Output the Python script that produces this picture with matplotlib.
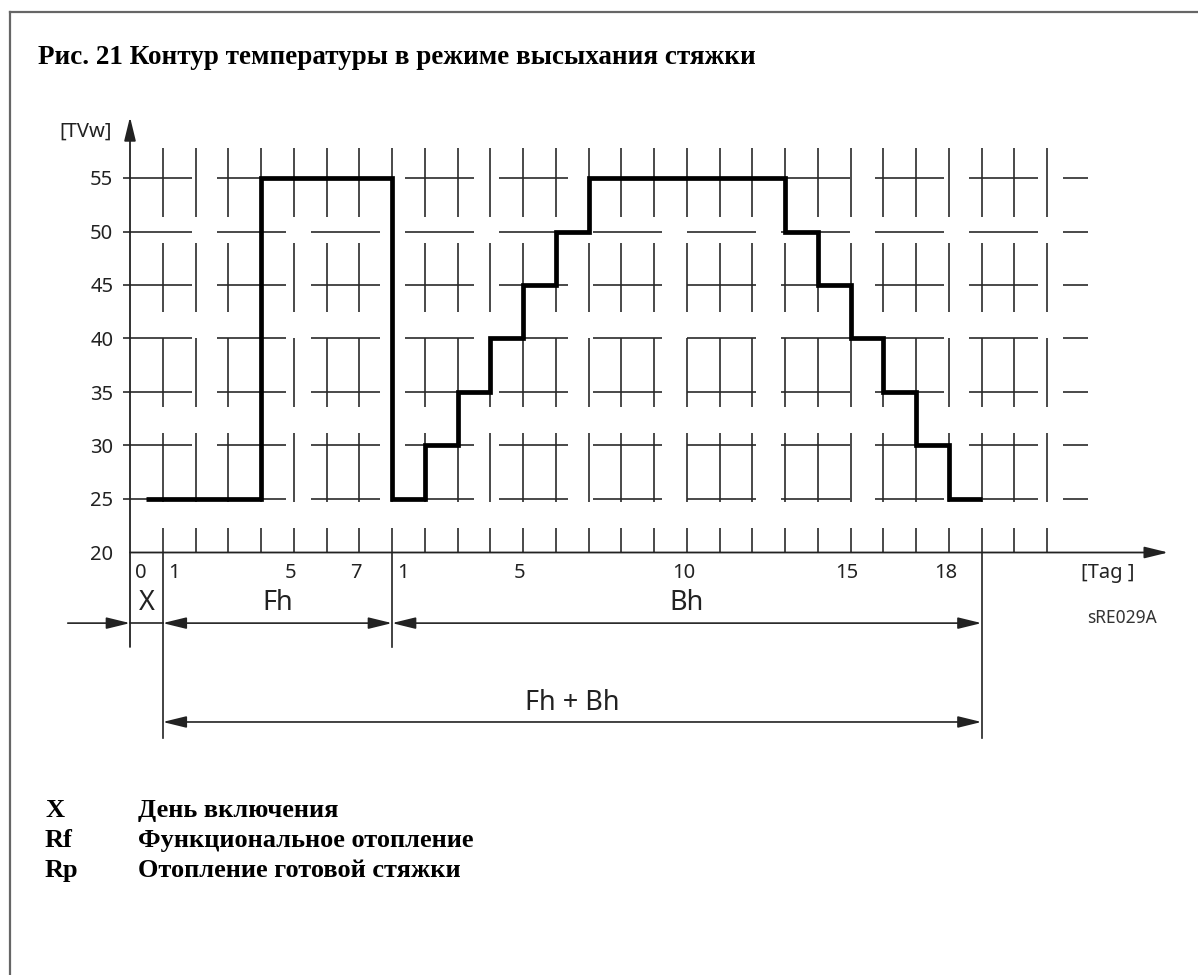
import numpy as np
import matplotlib
matplotlib.use('Agg')
import matplotlib.pyplot as plt
from matplotlib.collections import LineCollection
from matplotlib.lines import Line2D

# Screed drying profile: day boundaries and flow temperature on each interval
day_edges = [0.5, 4, 8, 9, 10, 11, 12, 13, 14, 20, 21, 22, 23, 24, 25, 26]
temps = [25, 55, 25, 30, 35, 40, 45, 50, 55, 50, 45, 40, 35, 30, 25]

y_levels = [20, 25, 30, 35, 40, 45, 50, 55]
day_ticks = list(range(1, 29))
x_label_pos = [0, 1, 5, 7, 8, 12, 17, 22, 25]
x_labels = ['0', '1', '5', '7', '1', '5', '10', '15', '18']

# phases: switch-on day, functional heating, ready-for-covering heating
phase_names = ['X', 'Fh', 'Bh']
phase_bounds = [0, 1, 8, 26]

legend_keys = ['X', 'Rf', 'Rp']
legend_text = ['День включения', 'Функциональное отопление', 'Отопление готовой стяжки']

title = 'Рис. 21 Контур температуры в режиме высыхания стяжки'

W, H = 1198, 975
PX_DAY, PX_DEG = 32.75, 10.7
X0, Y0 = 130, 552.5
XMAX, YMAX = 31.5, 61

SANS = 'Noto Sans'
SERIF = 'Liberation Serif'
INK = '#222222'
FS_NUM = 14.5
FS_DIM = 19.5

fig = plt.figure(figsize=(W / 100, H / 100), dpi=100)
ax = fig.add_axes([X0 / W, 1 - Y0 / H, XMAX * PX_DAY / W, (YMAX - 20) * PX_DEG / H])
ax.set_xlim(0, XMAX)
ax.set_ylim(20, YMAX)
ax.patch.set_alpha(0)
for s in ax.spines.values():
    s.set_visible(False)
ax.set_xticks([])
ax.set_yticks(y_levels)
ax.set_yticklabels([str(v) for v in y_levels], fontsize=FS_NUM, family=SANS, color=INK)
ax.tick_params(axis='y', length=0, pad=12)

# broken background grid (drawing pattern)
hsegs = []
for lvl in y_levels[1:]:
    for a in np.arange(-0.2, 29.2, 2.87):
        hsegs.append([(a, lvl), (min(a + 2.1, 29.25), lvl)])
vsegs = []
for d in day_ticks:
    for top in np.arange(57.84, 20, -8.88):
        vsegs.append([(d, max(top - 6.45, 20)), (d, top)])
ax.add_collection(LineCollection(hsegs + vsegs, colors='#2a2a2a', linewidths=1.2,
                                 clip_on=False, capstyle='butt'))

# temperature profile
ax.stairs(temps, day_edges, baseline=None, color='black', lw=3.4, zorder=5)

arrow = 'head_length=0.9,head_width=0.22'
def dim_arrow(x0, y0, x1, y1, style, lw=1.2):
    ax.annotate('', xy=(x1, y1), xytext=(x0, y0), annotation_clip=False,
                arrowprops=dict(arrowstyle=style + ',' + arrow, lw=lw, color=INK,
                                shrinkA=0, shrinkB=0, mutation_scale=16))

# axes with arrows
y_dim, y_total = 13.4, 4.16
y_ext_short, y_ext_long = 11.17, 2.66
dim_arrow(0, 20, 31.7, 20, '-|>', lw=1.3)
dim_arrow(0, y_ext_short, 0, 60.7, '-|>', lw=1.3)

# x labels
for pos, lab in zip(x_label_pos, x_labels):
    off = 0.33 if pos in phase_bounds else -0.1
    ax.text(pos + off, 18.1, lab, ha='center', va='center', fontsize=FS_NUM,
            family=SANS, color=INK, clip_on=False)
ax.text(29.85, 18.1, '[Tag ]', ha='center', va='center', fontsize=FS_NUM,
        family=SANS, color=INK)
ax.text(-0.55, 59.3, '[TVw]', ha='right', va='center', fontsize=FS_NUM,
        family=SANS, color=INK, clip_on=False)

# dimension lines below the axis
for b in phase_bounds[1:]:
    low = y_ext_long if b in (phase_bounds[1], phase_bounds[-1]) else y_ext_short
    ax.plot([b, b], [20, low], color=INK, lw=1.2, clip_on=False)
dim_arrow(-1.9, y_dim, phase_bounds[0], y_dim, '-|>')
ax.plot(phase_bounds[:2], [y_dim, y_dim], color=INK, lw=1.2, clip_on=False)
for a, b in zip(phase_bounds[1:-1], phase_bounds[2:]):
    dim_arrow(a, y_dim, b, y_dim, '<|-|>')
for name, a, b in zip(phase_names, phase_bounds[:-1], phase_bounds[1:]):
    ax.text((a + b) / 2, 15.3, name, ha='center', va='center', fontsize=FS_DIM,
            family=SANS, color=INK, clip_on=False)
dim_arrow(phase_bounds[1], y_total, phase_bounds[-1], y_total, '<|-|>')
ax.text((phase_bounds[1] + phase_bounds[-1]) / 2, 5.9, 'Fh + Bh', ha='center',
        va='center', fontsize=FS_DIM, family=SANS, color=INK, clip_on=False)
ax.text(30.3, 13.9, 'sRE029A', ha='center', va='center', fontsize=12.5,
        family=SANS, color='#333333', clip_on=False)

# title, legend and frame
fig.text(38 / W, 1 - 57 / H, title, ha='left', va='center', fontsize=19.5,
         family=SERIF, weight='bold')
for i, (k, t) in enumerate(zip(legend_keys, legend_text)):
    yy = 1 - (817 + 30 * i) / H
    fig.text(45 / W, yy, k, ha='left', va='baseline', fontsize=19, family=SERIF, weight='bold')
    fig.text(138 / W, yy, t, ha='left', va='baseline', fontsize=19, family=SERIF, weight='bold')

fig.add_artist(Line2D([10 / W, 10 / W], [0, 1 - 12 / H], color='#666666', lw=1.6))
fig.add_artist(Line2D([10 / W, 1], [1 - 12 / H, 1 - 12 / H], color='#666666', lw=1.6))

fig.savefig('out.png', dpi=100)
